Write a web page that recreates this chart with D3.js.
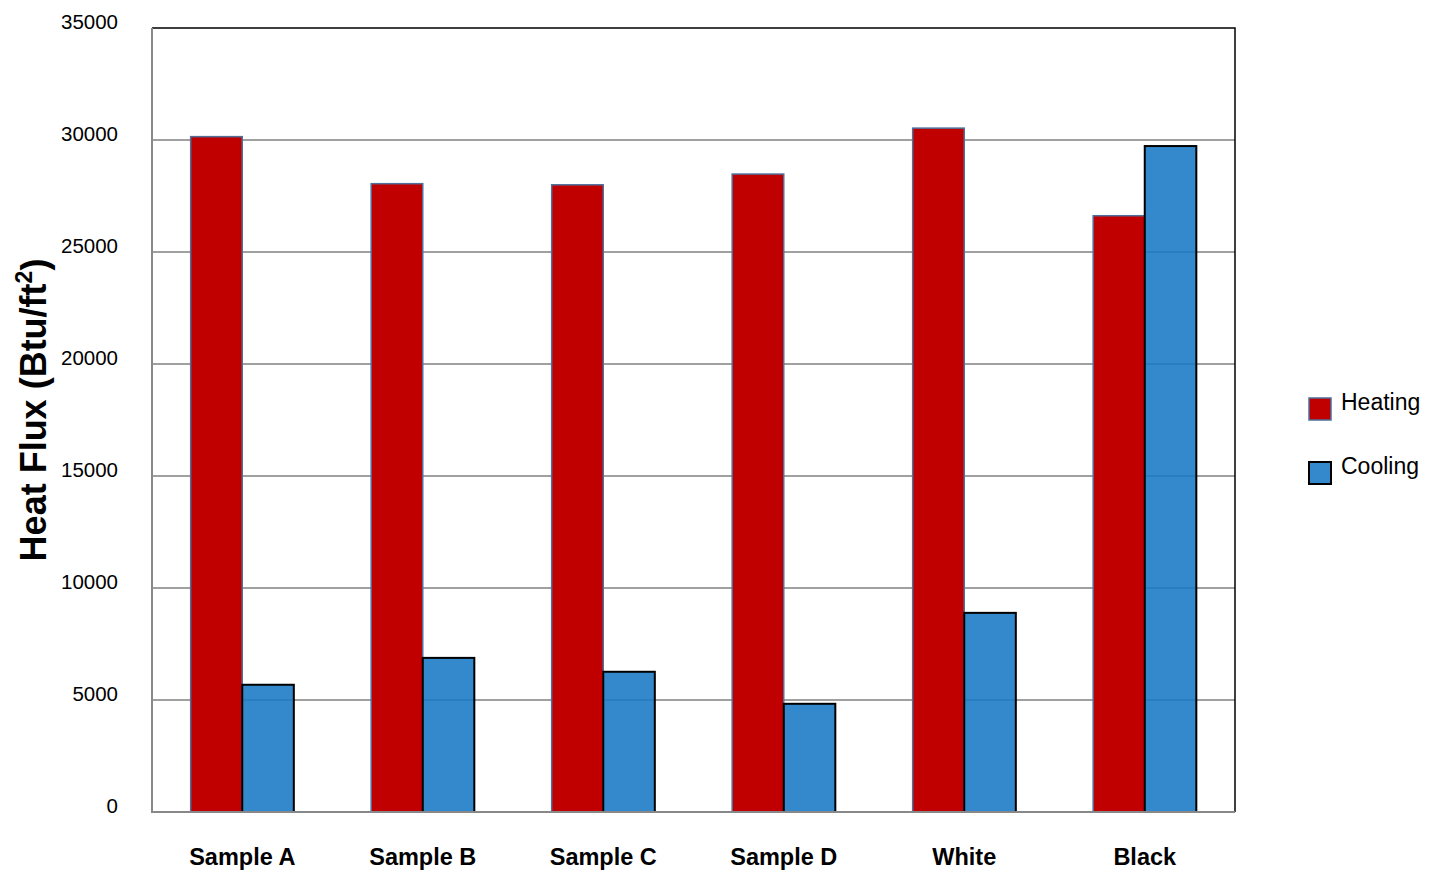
<!DOCTYPE html>
<html>
<head>
<meta charset="utf-8">
<script src="https://cdn.jsdelivr.net/npm/d3@7"></script>
<style>
  body { margin: 0; background: #fff; }
  svg { display: block; font-family: "Liberation Sans", Arial, sans-serif; }
</style>
</head>
<body>
<svg id="chart" width="1429" height="872"></svg>
<script>
// Heat flux per sample, Btu/ft²
const categories = ["Sample A", "Sample B", "Sample C", "Sample D", "White", "Black"];
const seriesNames = ["Heating", "Cooling"];
const heating = [30150, 28050, 28000, 28480, 30530, 26620];
const cooling = [5680, 6880, 6260, 4830, 8890, 29730];
const yTicks = [0, 5000, 10000, 15000, 20000, 25000, 30000, 35000];

const svg = d3.select("#chart");
const m = { left: 152, right: 1235, top: 28, bottom: 812 };

const x = d3.scaleBand().domain(categories).range([m.left, m.right]).paddingInner(0).paddingOuter(0);
const xs = d3.scaleBand().domain(seriesNames).range([0, x.bandwidth()]).paddingInner(0).paddingOuter(0.75);
const y = d3.scaleLinear().domain([0, 35000]).range([m.bottom, m.top]);

const fills = { Heating: "#c00000", Cooling: "#1879c5" };

// gridlines
svg.append("g").selectAll("line").data(yTicks.filter(t => t > 0 && t < 35000)).join("line")
  .attr("x1", m.left).attr("x2", m.right)
  .attr("y1", d => y(d)).attr("y2", d => y(d))
  .attr("stroke", "#a0a0a0").attr("stroke-width", 2);

// frame: top and right
svg.append("path")
  .attr("d", `M${m.left},${m.top}H${m.right}V${m.bottom}`)
  .attr("fill", "none").attr("stroke", "#000").attr("stroke-width", 1.5);

// bars
const rows = categories.map((c, i) => ({ c, vals: [{ s: "Heating", v: heating[i] }, { s: "Cooling", v: cooling[i] }] }));
const g = svg.append("g").selectAll("g").data(rows).join("g")
  .attr("transform", d => `translate(${x(d.c)},0)`);
g.selectAll("rect").data(d => d.vals).join("rect")
  .attr("x", d => xs(d.s))
  .attr("width", xs.bandwidth())
  .attr("y", d => y(d.v))
  .attr("height", d => y(0) - y(d.v))
  .attr("fill", d => fills[d.s])
  .attr("fill-opacity", d => d.s === "Cooling" ? 0.88 : 1)
  .attr("stroke", d => d.s === "Cooling" ? "#000" : "#4f6f9c")
  .attr("stroke-width", d => d.s === "Cooling" ? 2 : 1.5);

// left and bottom axis lines
svg.append("path")
  .attr("d", `M${m.left},${m.top}V${m.bottom}H${m.right}`)
  .attr("fill", "none").attr("stroke", "#888").attr("stroke-width", 2);

// y tick labels
const yAxis = d3.axisLeft(y).tickValues(yTicks).tickSize(0).tickPadding(34).tickFormat(d3.format("d"));
const ya = svg.append("g").attr("transform", `translate(${m.left},0)`).call(yAxis);
ya.select(".domain").remove();
ya.selectAll("text").attr("font-size", 20.5).attr("fill", "#000")
  .attr("font-family", "'Liberation Sans', Arial, sans-serif").attr("dy", "0.02em");

// x category labels
const xAxis = d3.axisBottom(x).tickSize(0).tickPadding(36);
const xa = svg.append("g").attr("transform", `translate(0,${m.bottom})`).call(xAxis);
xa.select(".domain").remove();
xa.selectAll("text").attr("font-size", 23.5).attr("font-weight", "bold").attr("fill", "#000")
  .attr("font-family", "'Liberation Sans', Arial, sans-serif");

// y axis title
const title = svg.append("text")
  .attr("transform", `translate(46,410) rotate(-90)`)
  .attr("text-anchor", "middle")
  .attr("font-size", 36).attr("font-weight", "bold").attr("fill", "#000");
title.append("tspan").text("Heat Flux (Btu/ft");
title.append("tspan").attr("font-size", 23).attr("dy", "-0.6em").text("2");
title.append("tspan").attr("dy", "0.4em").text(")");

// legend
const lg = svg.append("g").selectAll("g").data(seriesNames).join("g")
  .attr("transform", (d, i) => `translate(1309,${398 + i * 64})`);
lg.append("rect").attr("width", 22).attr("height", 22)
  .attr("fill", d => fills[d])
  .attr("fill-opacity", d => d === "Cooling" ? 0.88 : 1)
  .attr("stroke", d => d === "Cooling" ? "#000" : "#4f6f9c")
  .attr("stroke-width", d => d === "Cooling" ? 2 : 1.5);
lg.append("text").attr("x", 32).attr("y", 12).text(d => d)
  .attr("font-size", 23).attr("fill", "#000");
</script>
</body>
</html>
